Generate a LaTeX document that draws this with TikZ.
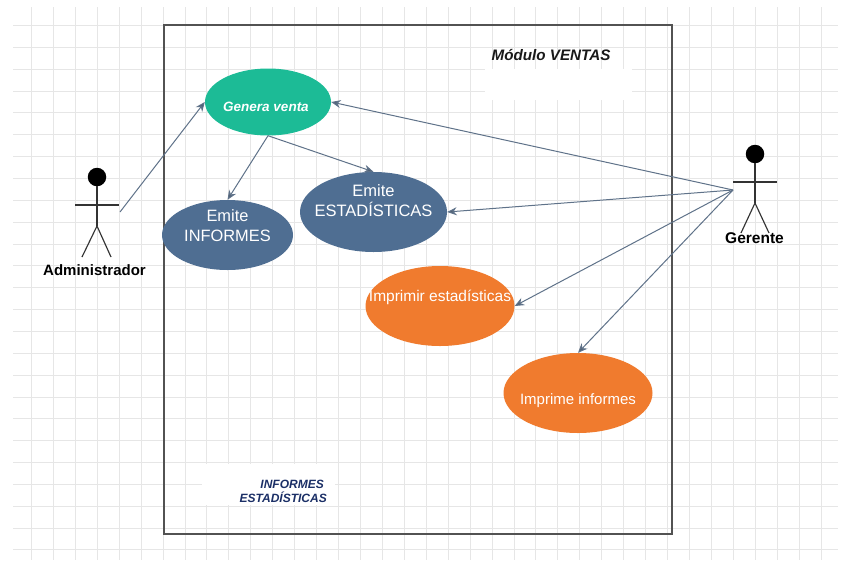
\documentclass[tikz,border=0pt]{standalone}
\usepackage{fontspec}
\setmainfont{Liberation Sans}
\usetikzlibrary{shapes.geometric,arrows.meta}
\definecolor{gridc}{HTML}{E6E6E6}
\definecolor{teal}{HTML}{1CBB96}
\definecolor{slate}{HTML}{4F6E92}
\definecolor{orng}{HTML}{F07B2E}
\definecolor{conn}{HTML}{5F7289}
\definecolor{navy}{HTML}{1B2F66}
\tikzset{
  usecase/.style={ellipse,inner sep=0pt},
  casetext/.style={text=white,align=center,inner sep=0pt,outer sep=0pt},
  link/.style={draw=conn,line width=1pt,-{Stealth[length=9.5pt,width=8pt,fill=conn!85!black]}},
  limb/.style={draw=black!80,line width=1.15pt},
  actorname/.style={font=\bfseries\fontsize{15}{17}\selectfont,text=black,inner sep=0pt},
  head/.style={circle,fill=black,minimum size=18.5pt,inner sep=0pt}
}
\begin{document}
\begin{tikzpicture}[x=1pt,y=-1pt]
\useasboundingbox (0,0) rectangle (851,563);
\fill[white] (0,0) rectangle (851,563);
% grid
\foreach \k in {0,...,36}{
  \pgfmathsetmacro{\gx}{31.5+21.93*\k}
  \draw[gridc,line width=0.9pt] (\gx,7) -- (\gx,560);
}
\foreach \k in {0,...,24}{
  \pgfmathsetmacro{\gy}{25.5+21.85*\k}
  \draw[gridc,line width=0.9pt] (13,\gy) -- (838,\gy);
}
% white patches
\fill[white] (485,69) rectangle (632,100);
\fill[white] (202,464) rectangle (335,505);
% system box
\node[draw=black!68,line width=1.35pt,minimum width=508pt,minimum height=509pt,inner sep=0pt] (sys) at (418,279.5) {};
\node[font=\bfseries\itshape\fontsize{15.2}{17}\selectfont,text=black!90,inner sep=0pt] (title) at (551,55) {Módulo VENTAS};
\node[font=\bfseries\itshape\fontsize{12}{14.5}\selectfont,text=navy,align=right,inner sep=0pt,anchor=east] (note) at (327,491.5) {INFORMES\hspace*{3pt}\\ESTADÍSTICAS};
% use cases
\node[usecase,fill=teal,minimum width=126pt,minimum height=67pt,label={[casetext,font=\bfseries\itshape\fontsize{13.5}{15}\selectfont,xshift=-2pt,yshift=-4.5pt]center:Genera venta}] (gv) at (268,102) {};
\node[usecase,fill=slate,minimum width=131pt,minimum height=70pt,label={[casetext,font=\fontsize{16.4}{20}\selectfont,yshift=9pt]center:Emite\\INFORMES}] (inf) at (227.5,235) {};
\node[usecase,fill=slate,minimum width=147pt,minimum height=80pt,label={[casetext,font=\fontsize{16.5}{20.5}\selectfont,yshift=11.5pt]center:Emite\\ESTADÍSTICAS}] (est) at (373.5,212) {};
\node[usecase,fill=orng,minimum width=149pt,minimum height=80pt,label={[casetext,font=\fontsize{15.5}{17}\selectfont,yshift=8.5pt]center:Imprimir estadísticas}] (ie) at (440,306) {};
\node[usecase,fill=orng,minimum width=149pt,minimum height=80pt,label={[casetext,font=\fontsize{15}{17}\selectfont,yshift=-8pt]center:Imprime informes}] (ii) at (578,393) {};
% administrador
\node[head] (ah) at (97,177) {};
\coordinate (ahip) at (97,226);
\coordinate (ala) at (75,205);
\coordinate (ara) at (119,205);
\coordinate (all) at (82,257);
\coordinate (arl) at (111,257);
\draw[limb] (ah) -- (ahip);
\draw[limb] (ala) -- (ara);
\draw[limb] (all) -- (ahip) -- (arl);
\node[actorname] (an) at (94.5,270.5) {Administrador};
% gerente
\node[head] (gh) at (755,154) {};
\coordinate (ghip) at (755,203);
\coordinate (gla) at (733,182);
\coordinate (gra) at (777,182);
\coordinate (gll) at (741,233);
\coordinate (grl) at (769,233);
\draw[limb] (gh) -- (ghip);
\draw[limb] (gla) -- (gra);
\draw[limb] (gll) -- (ghip) -- (grl);
\node[actorname,font=\bfseries\fontsize{15.5}{17}\selectfont] (gn) at (754.5,238) {Gerente};
% connectors
\coordinate (afrom) at (120,212);
\coordinate (gfrom) at (733,190);
\draw[link] (afrom) -- (gv.west);
\draw[link] (gv.south) -- (inf.north);
\draw[link] (gv.south) -- (est.north);
\draw[link] (gfrom) -- (gv.east);
\draw[link] (gfrom) -- (est.east);
\draw[link] (gfrom) -- (ie.east);
\draw[link] (gfrom) -- (ii.north);
\end{tikzpicture}
\end{document}
